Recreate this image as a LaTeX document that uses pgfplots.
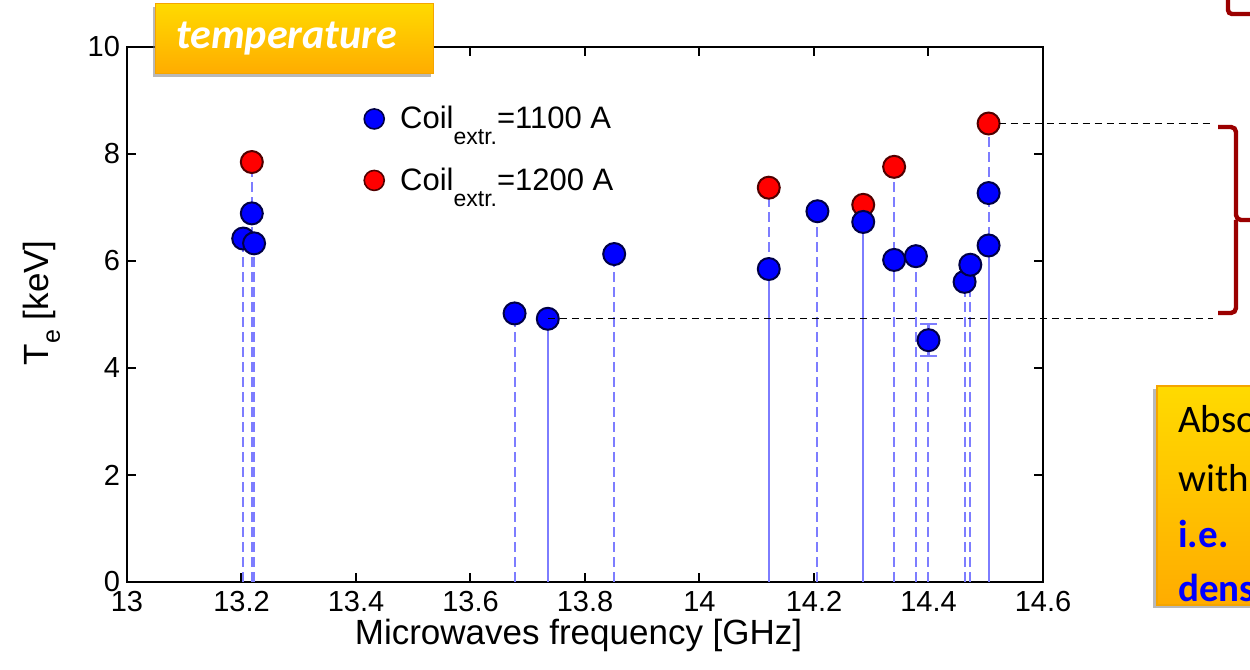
\documentclass[border=0pt]{standalone}
\usepackage{fontspec}
\setmainfont{Liberation Sans}
\newfontfamily\calibri{Carlito}
\usepackage{pgfplots}
\pgfplotsset{compat=1.18}
\usepackage{pgfplotstable}
\usetikzlibrary{shadows}

\definecolor{stemblue}{RGB}{125,125,255}
\definecolor{markblue}{RGB}{0,0,255}
\definecolor{markred}{RGB}{255,0,0}
\definecolor{edgeblue}{RGB}{0,0,70}
\definecolor{edgered}{RGB}{80,0,0}
\definecolor{bracketred}{RGB}{155,0,0}
\definecolor{boxtop}{RGB}{255,218,0}
\definecolor{boxbot}{RGB}{255,172,0}
\definecolor{boxedge}{RGB}{245,165,0}

% Te for coil current 1100 A, stems drawn dashed
\pgfplotstableread{
f      T
13.203 6.42
13.222 6.33
13.218 6.89
13.677 5.02
13.851 6.13
14.206 6.93
14.340 6.02
14.378 6.09
14.400 4.52
14.463 5.61
14.473 5.93
14.505 7.27
}\bluedashed

% Te for coil current 1100 A, stems drawn solid
\pgfplotstableread{
f      T
13.735 4.92
14.121 5.85
14.286 6.73
14.505 6.29
}\bluesolid

% Te for coil current 1200 A
\pgfplotstableread{
f      T
13.218 7.85
14.121 7.37
14.286 7.05
14.340 7.76
14.505 8.57
}\redset

\begin{document}
\begin{tikzpicture}
\path[use as bounding box] (0,0) rectangle (625pt,335pt);
\clip (0,0) rectangle (625pt,335pt);
\begin{axis}[
  at={(63.5pt,44pt)}, anchor=south west,
  scale only axis, width=458pt, height=267.5pt,
  xmin=13, xmax=14.6, ymin=0, ymax=10,
  xtick={13,13.2,13.4,13.6,13.8,14,14.2,14.4,14.6},
  xticklabels={13,13.2,13.4,13.6,13.8,14,14.2,14.4,14.6},
  ytick={0,2,4,6,8,10},
  tick align=inside, major tick length=4.5pt,
  axis line style={line width=1.1pt},
  every tick/.style={black, line width=1pt},
  tick label style={font=\fontsize{14.5}{16}\selectfont},
  xticklabel style={yshift=-1pt},
  /pgf/number format/assume math mode=true,
  xlabel={Microwaves frequency [GHz]},
  ylabel={T\raisebox{-0.6ex}{\fontsize{12.5}{13}\selectfont e} [keV]},
  label style={font=\fontsize{17.5}{19}\selectfont},
  xlabel style={at={(axis description cs:0.493,-0.099)}, anchor=center},
  ylabel style={at={(axis description cs:-0.093,0.522)}, anchor=center},
  legend style={draw=none, fill=none, at={(axis description cs:0.252,0.905)},
    anchor=north west, font=\fontsize{15.5}{17}\selectfont, row sep=14pt,
    /tikz/every odd column/.append style={column sep=6pt}},
  legend cell align=left,
]
% stems
\addplot[ycomb, stemblue, line width=1pt, dash pattern=on 5pt off 2.5pt, forget plot]
  table[x=f, y=T]{\redset};
\addplot[ycomb, stemblue, line width=1pt, dash pattern=on 5pt off 2.5pt, forget plot]
  table[x=f, y=T]{\bluedashed};
\addplot[ycomb, stemblue, line width=0.9pt, forget plot]
  table[x=f, y=T]{\bluesolid};
% error bar of the 14.4 GHz point: 4.52 +- 0.30 keV
\addplot[stemblue, line width=1.1pt, mark=-, mark size=4.3pt,
  mark options={solid, line width=1.1pt}, forget plot]
  coordinates {(14.400,4.22) (14.400,4.82)};
% markers
\addplot[only marks, mark=*, mark size=5.5pt,
  mark options={fill=markred, draw=edgered, line width=1pt}, forget plot]
  table[x=f, y=T]{\redset};
\addplot[only marks, mark=*, mark size=5.5pt,
  mark options={fill=markblue, draw=edgeblue, line width=1pt}, forget plot]
  table[x=f, y=T]{\bluedashed};
\addplot[only marks, mark=*, mark size=5.5pt,
  mark options={fill=markblue, draw=edgeblue, line width=1pt}, forget plot]
  table[x=f, y=T]{\bluesolid};
% legend
\addlegendimage{only marks, mark=*, mark size=5pt, mark options={fill=markblue, draw=edgeblue, line width=0.8pt}}
\addlegendentry{Coil\raisebox{-8pt}{\fontsize{11.5}{12}\selectfont extr.}=1100 A}
\addlegendimage{only marks, mark=*, mark size=5pt, mark options={fill=markred, draw=edgered, line width=0.8pt}}
\addlegendentry{Coil\raisebox{-8pt}{\fontsize{11.5}{12}\selectfont extr.}=1200 A}

\coordinate (pA) at (axis cs:14.505,8.57);
\coordinate (pB) at (axis cs:13.735,4.92);
\end{axis}

% guide lines to the bracket
\coordinate (qA) at (605pt,0);
\coordinate (qB) at (606.5pt,0);
\draw[black, line width=0.7pt, dash pattern=on 3.5pt off 2.5pt] (pA) ++(5pt,0) -- (pA -| qA);
\draw[black, line width=0.7pt, dash pattern=on 3.5pt off 2.5pt] (pB) -- (pB -| qB);

% bracket
\draw[bracketred, line width=2.2pt, rounded corners=2.5pt]
  (609pt,271.5pt) -- (618pt,271.5pt) -- (618pt,225pt) -- (630pt,225pt);
\draw[bracketred, line width=2.2pt, rounded corners=2.5pt]
  (609pt,178.5pt) -- (618pt,178.5pt) -- (618pt,225pt);
\draw[bracketred, line width=2.2pt, rounded corners=2pt]
  (614pt,340pt) -- (614pt,328pt) -- (630pt,328pt);

% title box
\node[draw=boxedge, line width=0.6pt, top color=boxtop, bottom color=boxbot,
  minimum width=139pt, minimum height=35pt, inner sep=0pt,
  drop shadow={shadow xshift=-1.5pt, shadow yshift=-1.5pt, opacity=0.55},
  text=white, font=\calibri\bfseries\itshape\fontsize{21}{23}\selectfont,
  anchor=north west] at (77.5pt,333.5pt) {\hspace*{-8pt}temperature};

% side note box
\path[draw=boxedge, line width=0.6pt, top color=boxtop, bottom color=boxbot,
  drop shadow={shadow xshift=-2pt, shadow yshift=-1.5pt, opacity=0.55}]
  (578.5pt,32.5pt) rectangle (680pt,142pt);
\node[anchor=base west, inner sep=0pt, font=\calibri\fontsize{19.5}{21}\selectfont]
  at (589pt,118.5pt) {Absorption};
\node[anchor=base west, inner sep=0pt, font=\calibri\fontsize{19.5}{21}\selectfont]
  at (589pt,89pt) {with};
\node[anchor=base west, inner sep=0pt, text=markblue, font=\calibri\bfseries\fontsize{19.5}{21}\selectfont]
  at (589pt,61pt) {i.e.};
\node[anchor=base west, inner sep=0pt, text=markblue, font=\calibri\bfseries\fontsize{19.5}{21}\selectfont]
  at (589pt,34pt) {density};
\end{tikzpicture}
\end{document}
